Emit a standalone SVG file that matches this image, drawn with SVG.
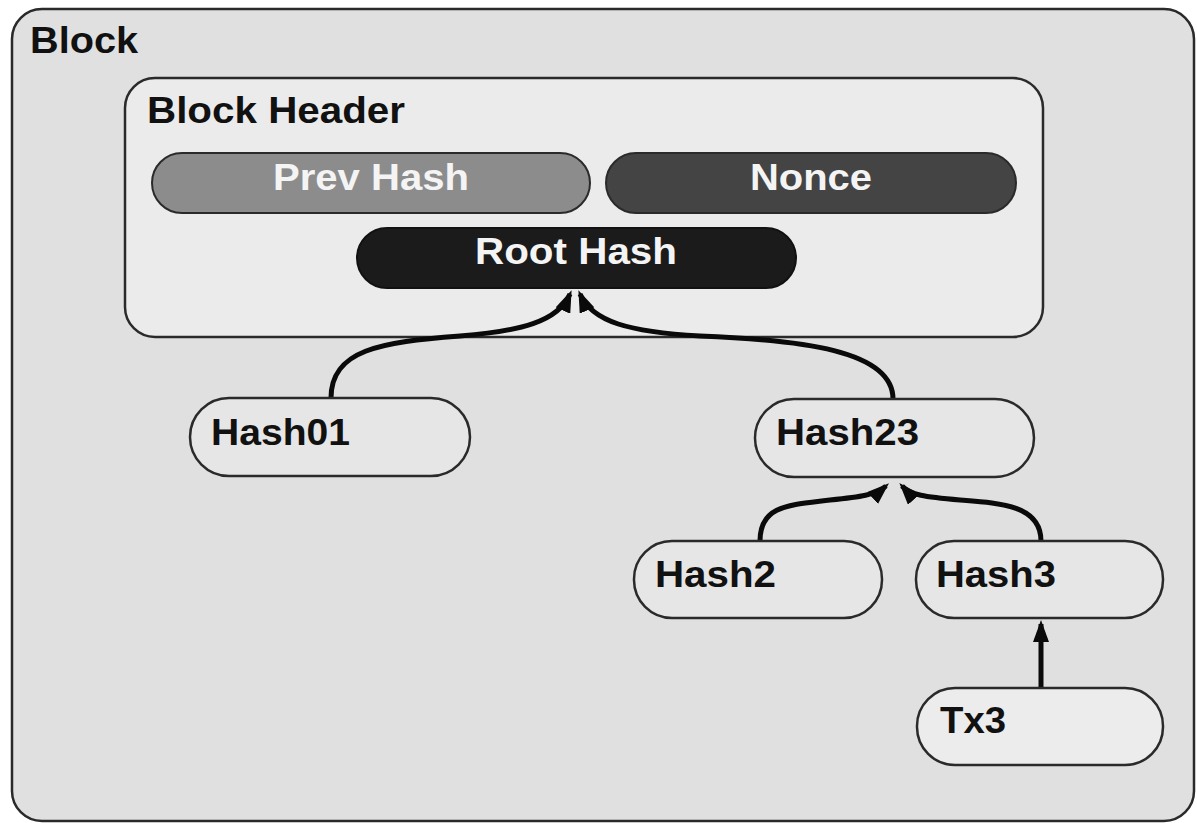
<svg xmlns="http://www.w3.org/2000/svg" width="1197" height="823" viewBox="0 0 1197 823">
<style>
text{font-family:"Liberation Sans",Arial,sans-serif;font-weight:bold;font-size:37px}
.lbl{fill:#111}
.wt{fill:#f4f4f4;text-anchor:middle}
.node{fill:#e6e6e6;stroke:#2a2a2a;stroke-width:2.5}
.conn{fill:none;stroke:#0a0a0a;stroke-width:5;marker-end:url(#arr)}
</style>
<defs>
<marker id="arr" markerUnits="userSpaceOnUse" viewBox="0 0 22 16" markerWidth="22" markerHeight="16" refX="18" refY="8" orient="auto">
<path d="M0,0 L22,8 L0,16 z" fill="#0a0a0a"/>
</marker>
</defs>
<rect x="0" y="0" width="1197" height="823" fill="#ffffff"/>
<g id="block">
<rect x="12" y="9" width="1182" height="812" rx="30" fill="#e0e0e0" stroke="#2a2a2a" stroke-width="2.5"/>
<text class="lbl" x="30" y="53" textLength="108" lengthAdjust="spacingAndGlyphs">Block</text>
</g>
<g id="header">
<rect x="125" y="78" width="918" height="259" rx="30" fill="#ebebeb" stroke="#2a2a2a" stroke-width="2.5"/>
<text class="lbl" x="147" y="123" textLength="258" lengthAdjust="spacingAndGlyphs">Block Header</text>
</g>
<g id="prevhash">
<rect x="152" y="153" width="438" height="60" rx="30" fill="#8c8c8c" stroke="#2a2a2a" stroke-width="2"/>
<text class="wt" x="371" y="190" textLength="196" lengthAdjust="spacingAndGlyphs">Prev Hash</text>
</g>
<g id="nonce">
<rect x="606" y="153" width="410" height="60" rx="30" fill="#444444" stroke="#2a2a2a" stroke-width="2"/>
<text class="wt" x="811" y="190" textLength="122" lengthAdjust="spacingAndGlyphs">Nonce</text>
</g>
<g id="roothash">
<rect x="357" y="228" width="439" height="60" rx="30" fill="#1b1b1b" stroke="#111" stroke-width="2"/>
<text class="wt" x="576" y="264" textLength="202" lengthAdjust="spacingAndGlyphs">Root Hash</text>
</g>
<g id="connectors">
<path class="conn" d="M331,398 C331,350 380,342 460,336 C520,331 558,322 570,294"/>
<path class="conn" d="M893,399 C893,350 800,340 700,336 C630,332 592,322 580,294"/>
<path class="conn" d="M760,541 C760,505 790,505 830,500 C860,497 876,495 886,486"/>
<path class="conn" d="M1041,541 C1041,505 1000,503 960,500 C925,497 910,495 902,486"/>
<path class="conn" d="M1041,688 L1041,624"/>
</g>
<g id="hash01">
<rect class="node" x="190" y="398" width="280" height="78" rx="39"/>
<text class="lbl" x="211" y="445" textLength="139" lengthAdjust="spacingAndGlyphs">Hash01</text>
</g>
<g id="hash23">
<rect class="node" x="755" y="399" width="279" height="78" rx="39"/>
<text class="lbl" x="776" y="445" textLength="143" lengthAdjust="spacingAndGlyphs">Hash23</text>
</g>
<g id="hash2">
<rect class="node" x="634" y="541" width="248" height="77" rx="38"/>
<text class="lbl" x="655" y="587" textLength="121" lengthAdjust="spacingAndGlyphs">Hash2</text>
</g>
<g id="hash3">
<rect class="node" x="916" y="541" width="247" height="77" rx="38"/>
<text class="lbl" x="936" y="587" textLength="120" lengthAdjust="spacingAndGlyphs">Hash3</text>
</g>
<g id="tx3">
<rect class="node" x="917" y="688" width="246" height="77" rx="38" style="fill:#ececec"/>
<text class="lbl" x="940" y="733" textLength="66" lengthAdjust="spacingAndGlyphs">Tx3</text>
</g>
</svg>
